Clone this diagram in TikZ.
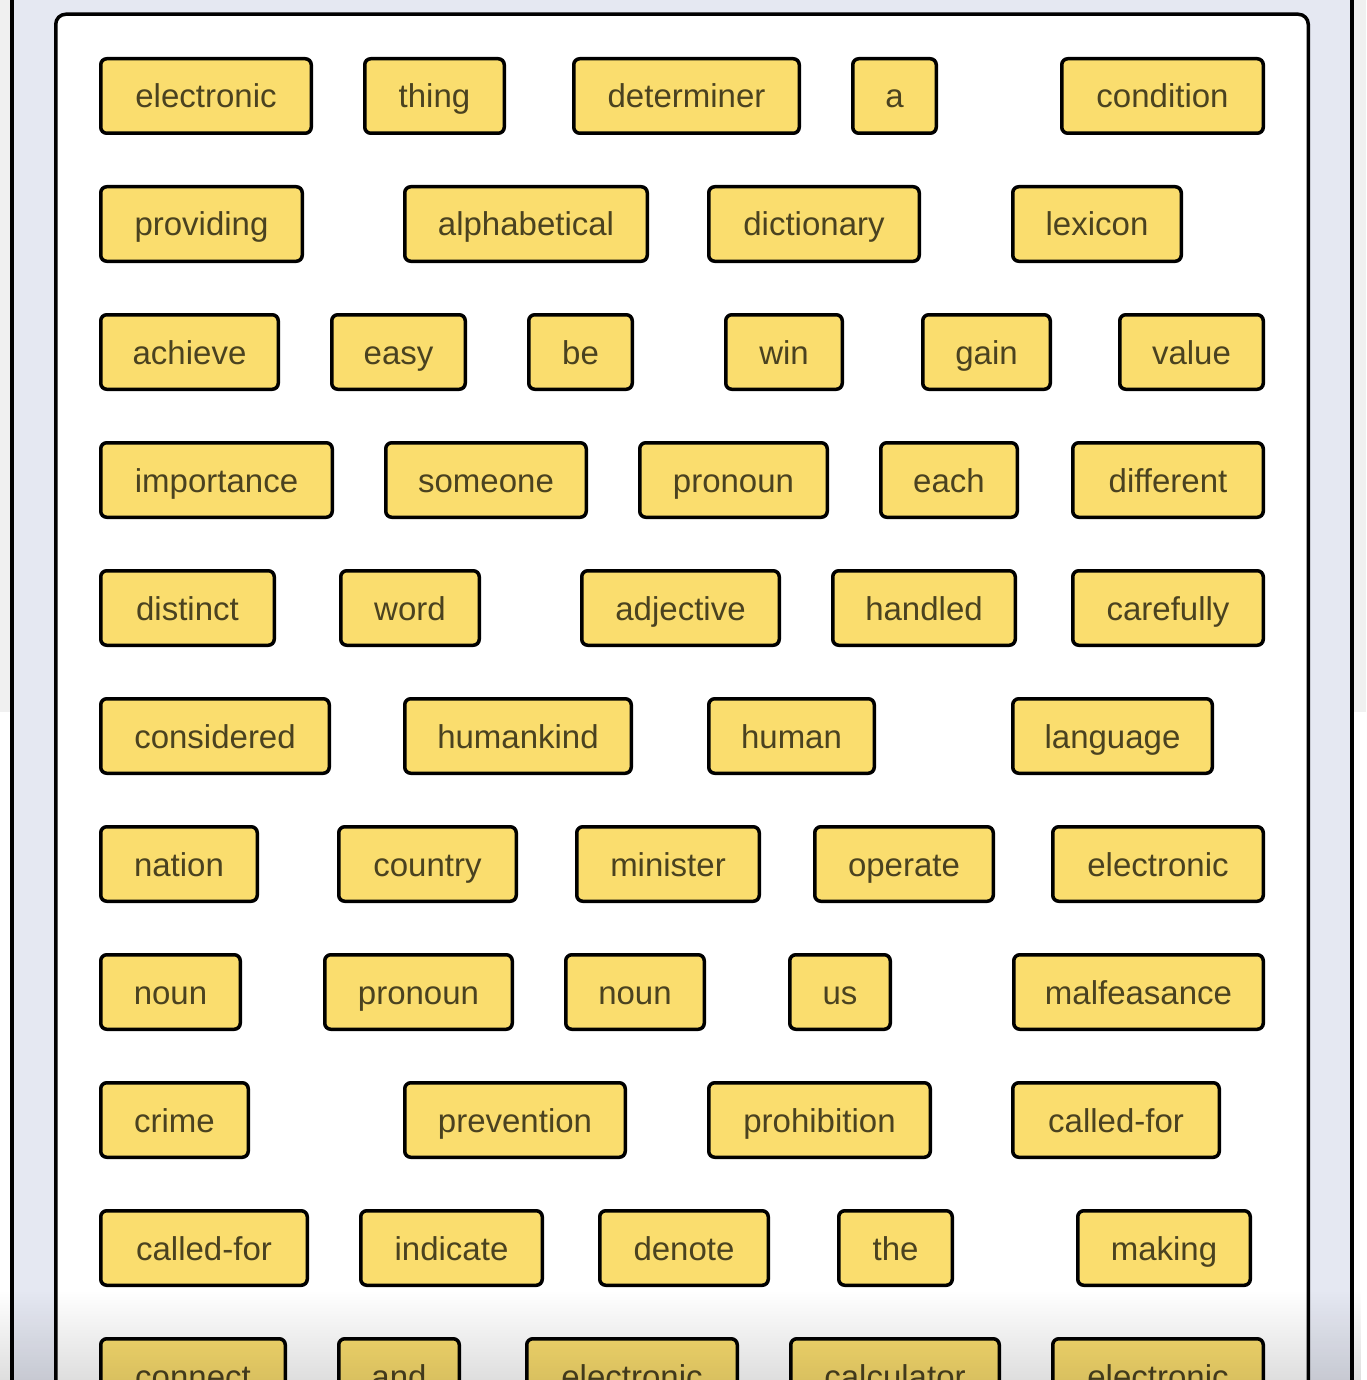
\documentclass[tikz,border=0pt]{standalone}
\usepackage{fontspec}
\usepackage{xcolor}
\usepackage{tikz}
\usetikzlibrary{fadings}
\newfontfamily\wordfont{Liberation Sans}
\definecolor{boxfill}{RGB}{250,221,110}
\definecolor{wordtxt}{RGB}{74,66,32}
\definecolor{pagebg}{RGB}{229,232,242}
\definecolor{sidegray}{RGB}{240,240,240}
\tikzfading[name=fadeup, top color=transparent!100, bottom color=transparent!0]

\begin{document}
\begin{tikzpicture}[x=1pt,y=-1pt,
		wordbox/.style={draw=black, line width=3.5pt, rounded corners=6pt, fill=boxfill, text=wordtxt,
			font=\wordfont\fontsize{33pt}{38pt}\selectfont, inner sep=0pt, minimum height=74.5pt,
			text height=24pt, text depth=0pt}]
			\useasboundingbox (0,0) rectangle (1366,1380);
			\clip (0,0) rectangle (1366,1380);
			%% background
			\fill[white] (0,0) rectangle (1366,1380);
			\fill[sidegray] (0,0) rectangle (10,712);
			\fill[sidegray] (1354,0) rectangle (1366,712);
			\fill[black] (10,0) rectangle (1354,1380);
			\fill[pagebg] (14,0) rectangle (1350,1380);
			\draw[fill=white, line width=3.5pt, rounded corners=10pt] (55.75,14.25) rectangle (1308.25,1420);
			%% row 1
			\node[wordbox, minimum width=210.5pt] (b11) at (206,96) {electronic};
			\node[wordbox, minimum width=139.5pt] (b12) at (434.5,96) {thing};
			\node[wordbox, minimum width=225.5pt] (b13) at (686.5,96) {determiner};
			\node[wordbox, minimum width=83.5pt] (b14) at (894.5,96) {a};
			\node[wordbox, minimum width=201.5pt] (b15) at (1162.5,96) {condition};
			%% row 2
			\node[wordbox, minimum width=201.5pt] (b21) at (201.5,224) {providing};
			\node[wordbox, minimum width=242.5pt] (b22) at (526,224) {alphabetical};
			\node[wordbox, minimum width=210.5pt] (b23) at (814,224) {dictionary};
			\node[wordbox, minimum width=168.5pt] (b24) at (1097,224) {lexicon};
			%% row 3
			\node[wordbox, minimum width=177.5pt] (b31) at (189.5,352) {achieve};
			\node[wordbox, minimum width=133.5pt] (b32) at (398.5,352) {easy};
			\node[wordbox, minimum width=103.5pt] (b33) at (580.5,352) {be};
			\node[wordbox, minimum width=116.5pt] (b34) at (784,352) {win};
			\node[wordbox, minimum width=127.5pt] (b35) at (986.5,352) {gain};
			\node[wordbox, minimum width=143.5pt] (b36) at (1191.5,352) {value};
			%% row 4
			\node[wordbox, minimum width=231.5pt] (b41) at (216.5,480) {importance};
			\node[wordbox, minimum width=200.5pt] (b42) at (486,480) {someone};
			\node[wordbox, minimum width=187.5pt] (b43) at (733.5,480) {pronoun};
			\node[wordbox, minimum width=136.5pt] (b44) at (949,480) {each};
			\node[wordbox, minimum width=190.5pt] (b45) at (1168,480) {different};
			%% row 5
			\node[wordbox, minimum width=173.5pt] (b51) at (187.5,608) {distinct};
			\node[wordbox, minimum width=138.5pt] (b52) at (410,608) {word};
			\node[wordbox, minimum width=197.5pt] (b53) at (680.5,608) {adjective};
			\node[wordbox, minimum width=182.5pt] (b54) at (924,608) {handled};
			\node[wordbox, minimum width=190.5pt] (b55) at (1168,608) {carefully};
			%% row 6
			\node[wordbox, minimum width=228.5pt] (b61) at (215,736) {considered};
			\node[wordbox, minimum width=226.5pt] (b62) at (518,736) {humankind};
			\node[wordbox, minimum width=165.5pt] (b63) at (791.5,736) {human};
			\node[wordbox, minimum width=199.5pt] (b64) at (1112.5,736) {language};
			%% row 7
			\node[wordbox, minimum width=156.5pt] (b71) at (179,864) {nation};
			\node[wordbox, minimum width=177.5pt] (b72) at (427.5,864) {country};
			\node[wordbox, minimum width=182.5pt] (b73) at (668,864) {minister};
			\node[wordbox, minimum width=178.5pt] (b74) at (904,864) {operate};
			\node[wordbox, minimum width=210.5pt] (b75) at (1158,864) {electronic};
			%% row 8
			\node[wordbox, minimum width=139.5pt] (b81) at (170.5,992) {noun};
			\node[wordbox, minimum width=187.5pt] (b82) at (418.5,992) {pronoun};
			\node[wordbox, minimum width=138.5pt] (b83) at (635,992) {noun};
			\node[wordbox, minimum width=100.5pt] (b84) at (840,992) {us};
			\node[wordbox, minimum width=249.5pt] (b85) at (1138.5,992) {malfeasance};
			%% row 9
			\node[wordbox, minimum width=147.5pt] (b91) at (174.5,1120) {crime};
			\node[wordbox, minimum width=220.5pt] (b92) at (515,1120) {prevention};
			\node[wordbox, minimum width=221.5pt] (b93) at (819.5,1120) {prohibition};
			\node[wordbox, minimum width=206.5pt] (b94) at (1116,1120) {called-for};
			%% row 10
			\node[wordbox, minimum width=206.5pt] (b101) at (204,1248) {called-for};
			\node[wordbox, minimum width=181.5pt] (b102) at (451.5,1248) {indicate};
			\node[wordbox, minimum width=168.5pt] (b103) at (684,1248) {denote};
			\node[wordbox, minimum width=113.5pt] (b104) at (895.5,1248) {the};
			\node[wordbox, minimum width=172.5pt] (b105) at (1164,1248) {making};
			%% row 11
			\node[wordbox, minimum width=184.5pt] (b111) at (193,1376) {connect};
			\node[wordbox, minimum width=120.5pt] (b112) at (399,1376) {and};
			\node[wordbox, minimum width=210.5pt] (b113) at (632,1376) {electronic};
			\node[wordbox, minimum width=208.5pt] (b114) at (895,1376) {calculator};
			\node[wordbox, minimum width=210.5pt] (b115) at (1158,1376) {electronic};
			%% shadow at the bottom
			\fill[black, opacity=0.13, path fading=fadeup] (0,1290) rectangle (1366,1380);
		\end{tikzpicture}
\end{document}
